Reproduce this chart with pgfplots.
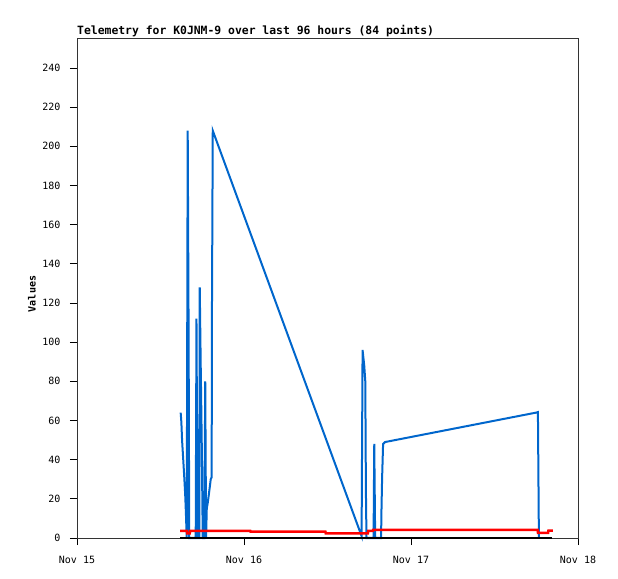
\documentclass[border=0pt]{standalone}
\usepackage{fontspec}
\setmainfont{DejaVu Sans Mono}
\usepackage{pgfplots}
\pgfplotsset{compat=1.18}
\definecolor{tblue}{RGB}{0,102,204}
\definecolor{tred}{RGB}{255,0,0}
\begin{document}
\begin{tikzpicture}
\begin{axis}[
  scale only axis, width=501bp, height=500bp,
  xmin=0, xmax=72, ymin=0, ymax=255.3,
  xtick={0,24,48,72}, xticklabels={Nov 15,Nov 16,Nov 17,Nov 18},
  ytick={0,20,...,240},
  tick align=outside, major tick length=7bp,
  xtick pos=bottom, ytick pos=left,
  axis line style={line width=0.8bp, black!80},
  every tick/.style={line width=0.8bp, black},
  /pgf/number format/assume math mode=true,
  tick label style={font=\fontsize{10bp}{12bp}\selectfont},
  xticklabel style={yshift=-8bp},
  yticklabel style={xshift=-6bp},
  ylabel={\bfseries Values},
  ylabel style={at={(axis description cs:-0.0898,0.488)}, anchor=center, font=\fontsize{10bp}{12bp}\selectfont},
  clip=false,
]
\addplot[tblue, line width=2bp] coordinates {
(14.90,64) (15.00,59) (15.10,50) (15.25,41) (15.40,32) (15.55,22) (15.65,13) (15.77,0)
(15.91,208) (16.04,104) (16.13,0) (17.06,0) (17.17,112) (17.32,0) (17.57,0)
(17.64,128) (17.78,88) (17.93,48) (18.07,0) (18.29,0) (18.43,80) (18.55,0)
(18.65,15) (18.79,18) (18.94,22) (19.08,26) (19.22,30) (19.35,31) (19.40,120) (19.51,208)
(40.90,1) (41.04,96) (41.28,88) (41.43,80) (41.52,24) (41.60,0) (42.62,0) (42.72,48) (42.85,0)
(43.70,0) (43.75,13) (43.85,31) (43.99,48) (44.28,49) (65.95,64) (66.24,64.3) (66.31,32) (66.38,0)
};
\addplot[tred, line width=2.5bp] coordinates {
(14.83,3.7) (15.80,3.7) (15.84,2.4) (16.20,2.4) (16.27,3.7) (24.90,3.7) (24.95,3.2)
(35.70,3.2) (35.75,2.4) (41.80,2.4) (41.85,3.6) (42.50,3.6) (42.55,4.1) (66.20,4.1)
(66.25,2.6) (67.70,2.6) (67.75,3.8) (68.40,3.8)
};
\addplot[black, line width=2bp] coordinates {(14.85,0) (68.26,0)};
\end{axis}
\node[anchor=base west, font=\fontsize{11.4bp}{13bp}\selectfont\bfseries, inner sep=0pt]
  at ([yshift=3bp]current axis.north west) {Telemetry for K0JNM-9 over last 96 hours (84 points)};
\pgfresetboundingbox
\path[use as bounding box] ([xshift=-77bp,yshift=-41bp]current axis.south west) rectangle ([xshift=40bp,yshift=38bp]current axis.north east);
\end{tikzpicture}
\end{document}
